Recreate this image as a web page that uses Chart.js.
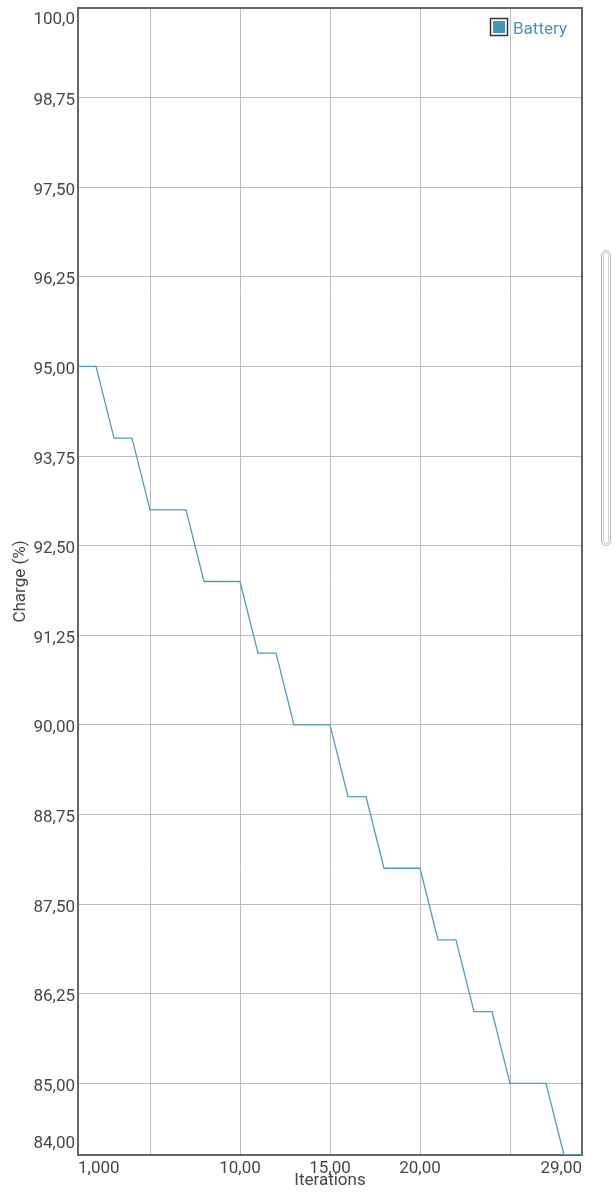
<!DOCTYPE html>
<html>
<head>
<meta charset="utf-8">
<script src="https://cdn.jsdelivr.net/npm/chart.js@4"></script>
<style>
  html, body { margin: 0; padding: 0; background: #fff; }
  #wrap { position: relative; width: 616px; height: 1200px; }
  #scroll { position: absolute; left: 601px; top: 250px; width: 10px; height: 296px;
    box-sizing: border-box; border: 1.5px solid #b5b5b5; border-radius: 6px;
    box-shadow: inset 0 0 0 1px #fff, inset 0 0 0 2px #cfcfcf; }
</style>
</head>
<body>
<div id="wrap">
  <canvas id="c" width="616" height="1200"></canvas>
  <div id="scroll"></div>
</div>
<script>
const iterations = [1,2,3,4,5,6,7,8,9,10,11,12,13,14,15,16,17,18,19,20,21,22,23,24,25,26,27,28,29];
const charge = [95,95,94,94,93,93,93,92,92,92,91,91,90,90,90,89,89,88,88,88,87,87,86,86,85,85,85,84,84];
const seriesName = 'Battery';
const xTickValues = [1,5,10,15,20,25,29];
const xTickLabels = ['1,000','','10,00','15,00','20,00','','29,00'];
const yTickValues = [84,85,86.25,87.5,88.75,90,91.25,92.5,93.75,95,96.25,97.5,98.75,100];
const yTickLabels = ['84,00','85,00','86,25','87,50','88,75','90,00','91,25','92,50','93,75','95,00','96,25','97,50','98,75','100,0'];

const FONT = '17px Roboto';
const TEXT = '#474747';
const LINE = '#4a9fc4';

const points = iterations.map((x, i) => ({ x: x, y: charge[i] }));

const customPlugin = {
  id: 'custom',
  beforeDatasetsDraw(chart) {
    const { ctx, chartArea: a } = chart;
    ctx.save();
    ctx.strokeStyle = '#666';
    ctx.lineWidth = 2;
    ctx.strokeRect(a.left, a.top, a.right - a.left, a.bottom - a.top);
    ctx.restore();
  },
  afterDraw(chart) {
    const { ctx, chartArea: a } = chart;
    const xs = chart.scales.x, ys = chart.scales.y;
    ctx.save();
    ctx.font = FONT;
    ctx.fillStyle = TEXT;
    xs.ticks.forEach((t, i) => {
      const lab = xTickLabels[xTickValues.indexOf(t.value)];
      if (!lab) return;
      const px = xs.getPixelForValue(t.value);
      let align = 'center';
      if (i === 0) align = 'left';
      else if (i === xs.ticks.length - 1) align = 'right';
      ctx.textAlign = align;
      ctx.textBaseline = 'alphabetic';
      ctx.fillText(lab, px, a.bottom + 17.5);
    });
    ys.ticks.forEach((t, i) => {
      const lab = yTickLabels[yTickValues.indexOf(t.value)];
      if (!lab) return;
      let py = ys.getPixelForValue(t.value) + 7.5;
      if (i === 0) py = a.bottom - 7;
      else if (i === ys.ticks.length - 1) py = a.top + 16;
      ctx.textAlign = 'right';
      ctx.textBaseline = 'alphabetic';
      ctx.fillText(lab, a.left - 3, py);
    });
    const ds = chart.data.datasets[0];
    ctx.strokeStyle = '#333';
    ctx.lineWidth = 1.5;
    ctx.strokeRect(490.5, 18.5, 17, 17);
    ctx.fillStyle = '#3f97bf';
    ctx.fillRect(493, 21, 12, 12);
    ctx.textAlign = 'left';
    ctx.fillText(ds.label, 513, 34);
    ctx.restore();
  }
};

new Chart(document.getElementById('c'), {
  type: 'line',
  data: {
    datasets: [{
      label: seriesName,
      data: points,
      borderColor: LINE,
      backgroundColor: LINE,
      borderWidth: 1.3,
      pointRadius: 0,
      tension: 0,
      fill: false
    }]
  },
  options: {
    responsive: false,
    animation: false,
    layout: { padding: { top: 8, right: 34, left: 0, bottom: 0 } },
    plugins: { legend: { display: false }, tooltip: { enabled: false } },
    scales: {
      x: {
        type: 'linear',
        min: 1, max: 29,
        afterBuildTicks(s) { s.ticks = xTickValues.map(v => ({ value: v })); },
        afterFit(s) { s.height = 45; },
        ticks: { display: false },
        grid: { color: '#bdbdbd', lineWidth: 1, drawTicks: false },
        border: { display: false },
        title: { display: true, text: 'Iterations', color: TEXT, font: { family: 'Roboto', size: 17 }, padding: { top: 0, bottom: 9 } }
      },
      y: {
        type: 'linear',
        min: 84, max: 100,
        afterBuildTicks(s) { s.ticks = yTickValues.map(v => ({ value: v })); },
        afterFit(s) { s.width = 78; },
        ticks: { display: false },
        grid: { color: '#bdbdbd', lineWidth: 1, drawTicks: false },
        border: { display: false },
        title: { display: true, text: 'Charge (%)', color: TEXT, font: { family: 'Roboto', size: 17 }, padding: { top: 11, bottom: 0 } }
      }
    }
  },
  plugins: [customPlugin]
});
</script>
</body>
</html>
